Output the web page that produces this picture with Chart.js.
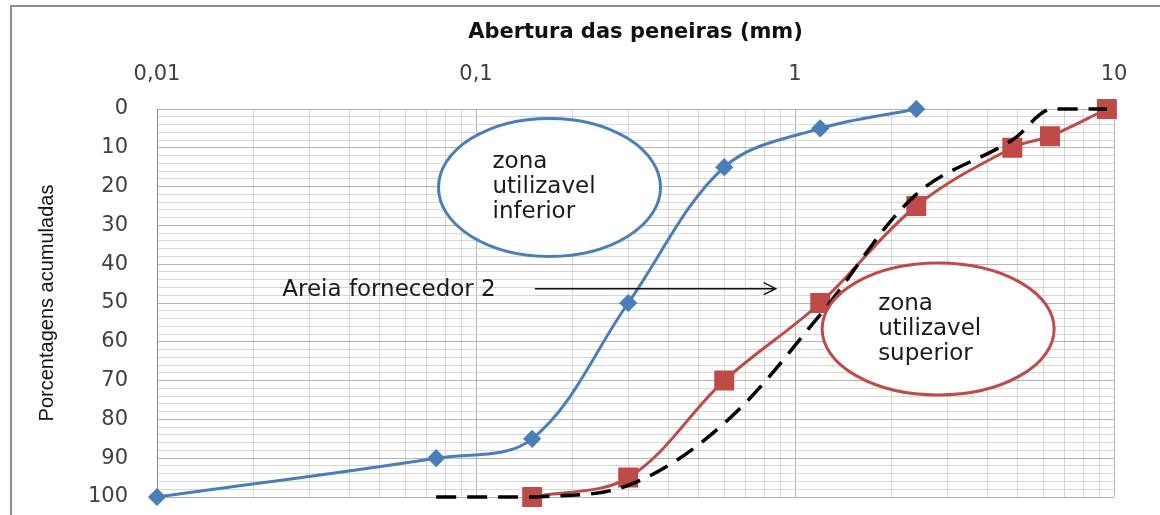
<!DOCTYPE html>
<html>
<head>
<meta charset="utf-8">
<script src="https://cdn.jsdelivr.net/npm/chart.js@4/dist/chart.umd.min.js"></script>
<style>
  html, body { margin: 0; padding: 0; background: #fff; }
  #grafico { display: block; }
</style>
</head>
<body>
<canvas id="grafico" width="1160" height="515"></canvas>
<script>
// Abertura das peneiras (mm) e porcentagens acumuladas
const inferiorX = [0.01, 0.075, 0.15, 0.3, 0.6, 1.2, 2.4];
const inferiorY = [100, 90, 85, 50, 15, 5, 0];

const superiorX = [0.15, 0.3, 0.6, 1.2, 2.4, 4.8, 6.3, 9.5];
const superiorY = [100, 95, 70, 50, 25, 10, 7, 0];

const areiaX = [0.075, 0.15, 0.3, 0.6, 1.2, 2.4, 4.8, 6.3, 9.5];
const areiaY = [100, 100, 97, 81, 53, 22, 8, 0, 0];

// rótulos do eixo x (décadas)
const decadas = [0.01, 0.1, 1, 10];
const decadasLabels = ["0,01", "0,1", "1", "10"];

function pontos(xs, ys) {
  return xs.map((x, i) => ({ x: x, y: ys[i] }));
}

function ehDecada(v) {
  const l = Math.log10(v);
  return Math.abs(l - Math.round(l)) < 1e-9;
}

// ticks do eixo log : 1..9 em cada década
const logTicks = [];
for (let i = 0; i < decadas.length - 1; i++) {
  for (let k = 1; k <= 9; k++) logTicks.push(k * decadas[i]);
}
logTicks.push(decadas[decadas.length - 1]);

// anotações (elipses e seta), posicionadas pelas escalas
const elipses = [
  { x: 0.17, y: 20.2, rx: 111, ry: 69, cor: "#4a7ebb", dx: -57, linhas: ["zona", "utilizavel", "inferior"] },
  { x: 2.81, y: 56.7, rx: 116, ry: 66, cor: "#be4b48", dx: -60, linhas: ["zona", "utilizavel", "superior"] }
];
const seta = { texto: "Areia fornecedor 2", xTexto: 0.0247, x1: 0.153, x2: 0.87, y: 46.3 };

const anotacoes = {
  id: "anotacoes",
  beforeDraw(chart) {
    const ctx = chart.ctx;
    ctx.save();
    ctx.fillStyle = "#fff";
    ctx.fillRect(0, 0, chart.width, chart.height);
    ctx.strokeStyle = "#8c8c8c";
    ctx.lineWidth = 2;
    ctx.beginPath();
    ctx.moveTo(11, chart.height);
    ctx.lineTo(11, 6);
    ctx.lineTo(chart.width, 6);
    ctx.stroke();
    ctx.restore();
  },
  afterDatasetsDraw(chart) {
    const ctx = chart.ctx;
    const sx = chart.scales.x;
    const sy = chart.scales.y;
    ctx.save();
    ctx.font = "23px 'DejaVu Sans'";
    ctx.textBaseline = "middle";
    ctx.textAlign = "left";
    for (const e of elipses) {
      const cx = sx.getPixelForValue(e.x);
      const cy = sy.getPixelForValue(e.y);
      ctx.beginPath();
      ctx.ellipse(cx, cy, e.rx, e.ry, 0, 0, Math.PI * 2);
      ctx.fillStyle = "#fff";
      ctx.fill();
      ctx.lineWidth = 3;
      ctx.strokeStyle = e.cor;
      ctx.stroke();
      ctx.fillStyle = "#1a1a1a";
      e.linhas.forEach((t, i) => {
        ctx.fillText(t, cx + e.dx, cy + (i - 1) * 25);
      });
    }
    // seta
    const y = sy.getPixelForValue(seta.y);
    ctx.fillStyle = "#1a1a1a";
    ctx.fillText(seta.texto, sx.getPixelForValue(seta.xTexto), y + 1);
    const x1 = sx.getPixelForValue(seta.x1);
    const x2 = sx.getPixelForValue(seta.x2);
    ctx.strokeStyle = "#111";
    ctx.lineWidth = 1.5;
    ctx.beginPath();
    ctx.moveTo(x1, y);
    ctx.lineTo(x2, y);
    ctx.moveTo(x2 - 12, y - 6);
    ctx.lineTo(x2, y);
    ctx.lineTo(x2 - 12, y + 6);
    ctx.stroke();
    ctx.restore();
  }
};

const data = {
  datasets: [
    {
      label: "zona utilizavel inferior",
      data: pontos(inferiorX, inferiorY),
      borderColor: "#4a7ebb",
      backgroundColor: "#4a7ebb",
      borderWidth: 3,
      pointStyle: "rectRot",
      pointRadius: 7,
      tension: 0.35,
      clip: false,
      order: 3
    },
    {
      label: "zona utilizavel superior",
      data: pontos(superiorX, superiorY),
      borderColor: "#be4b48",
      backgroundColor: "#be4b48",
      borderWidth: 3,
      pointStyle: "rect",
      pointRadius: 12,
      tension: 0.35,
      clip: false,
      order: 2
    },
    {
      label: "Areia fornecedor 2",
      data: pontos(areiaX, areiaY),
      borderColor: "#000",
      borderWidth: 3.5,
      borderDash: [20, 11],
      pointRadius: 0,
      tension: 0.35,
      clip: false,
      order: 1
    }
  ]
};

const config = {
  type: "line",
  data: data,
  options: {
    responsive: false,
    animation: false,
    layout: { padding: { left: 0, right: 46, top: 0, bottom: 18 } },
    plugins: {
      legend: { display: false },
      tooltip: { enabled: false }
    },
    scales: {
      x: {
        type: "logarithmic",
        position: "top",
        min: 0.01,
        max: 10,
        afterBuildTicks: (s) => { s.ticks = logTicks.map(v => ({ value: v })); },
        afterFit: (s) => { s.height = 109; },
        grid: {
          drawTicks: false,
          lineWidth: 1,
          color: (ctx) => ctx.tick && ehDecada(ctx.tick.value) ? "#b4b4b4" : "#d6d6d6"
        },
        border: { display: true, color: "#b4b4b4" },
        ticks: {
          autoSkip: false,
          maxRotation: 0,
          padding: 22,
          color: "#404040",
          font: { family: "DejaVu Sans", size: 21 },
          callback: (v) => {
            const i = decadas.findIndex(d => Math.abs(d - v) < 1e-9);
            return i >= 0 ? decadasLabels[i] : "";
          }
        },
        title: {
          display: true,
          text: "Abertura das peneiras (mm)",
          color: "#111",
          font: { family: "DejaVu Sans", size: 21, weight: "bold" },
          padding: { top: 20, bottom: 0 }
        }
      },
      y: {
        type: "linear",
        reverse: true,
        min: 0,
        max: 100,
        afterFit: (s) => {
          s.width = 157;
          s.paddingTop = 0;
          s.paddingBottom = 0;
        },
        grid: {
          drawTicks: false,
          lineWidth: 1,
          color: (ctx) => ctx.tick && ctx.tick.value % 10 === 0 ? "#b4b4b4" : "#d6d6d6"
        },
        border: { display: true, color: "#8c8c8c" },
        ticks: {
          stepSize: 2,
          autoSkip: false,
          padding: 29,
          color: "#404040",
          font: { family: "DejaVu Sans", size: 21 },
          callback: (v) => v % 10 === 0 ? v : ""
        },
        title: {
          display: true,
          text: "Porcentagens acumuladas",
          color: "#111",
          font: { family: "Liberation Sans", size: 20 },
          padding: { top: 35, bottom: 0 }
        }
      }
    }
  },
  plugins: [anotacoes]
};

const grafico = new Chart(document.querySelector("#grafico"), config);
</script>
</body>
</html>
